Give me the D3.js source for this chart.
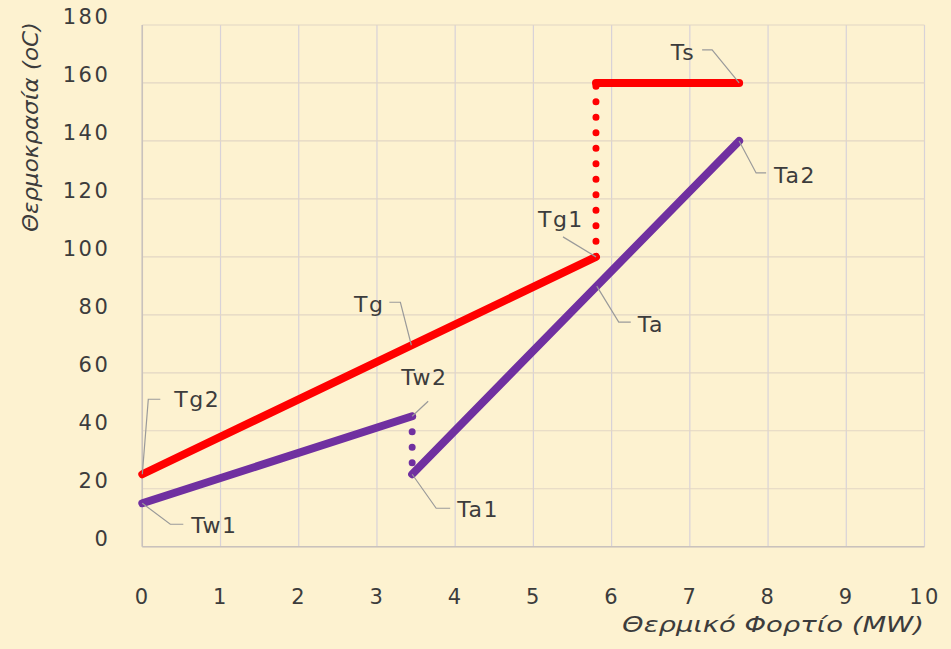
<!DOCTYPE html>
<html>
<head>
<meta charset="utf-8">
<script src="https://cdn.jsdelivr.net/npm/d3@7"></script>
<style>
  html, body { margin: 0; padding: 0; background: #fdf2d0; }
  svg { display: block; }
  text { font-family: "DejaVu Sans", "Noto Sans", sans-serif; fill: #3c3c3c; }
</style>
</head>
<body>
<svg id="chart" width="951" height="649"></svg>
<script>
// Axis ticks
const xTicks = [0, 1, 2, 3, 4, 5, 6, 7, 8, 9, 10];
const yTicks = [0, 20, 40, 60, 80, 100, 120, 140, 160, 180];

// Temperature profiles: thermal load (MW) vs temperature (oC)
const tgLoad = [0, 5.8];      const tgTemp = [25, 100];   // flue gas
const twLoad = [0, 3.45];     const twTemp = [15, 45];    // water
const taLoad = [3.45, 7.63];  const taTemp = [25, 140];   // air
const tsLoad = [5.8, 7.63];   const tsTemp = [160, 160];  // steam

// Vertical jumps between segments (dotted)
const tgJumpLoad = [5.8, 5.8];   const tgJumpTemp = [100, 160];
const twJumpLoad = [3.45, 3.45]; const twJumpTemp = [45, 25];

// Point annotations: name and the value point they refer to
const labelNames = ["Tg2", "Tw1", "Tg", "Tw2", "Ta1", "Tg1", "Ta", "Ta2", "Ts"];
const labelLoad  = [0, 0, 3.44, 3.45, 3.45, 5.8, 5.81, 7.63, 7.63];
const labelTemp  = [25, 15, 69.5, 45, 25, 100, 89.9, 140, 160];

// Leader-line layout for each annotation (pixel offsets from its point)
const leaderLayout = {
  Tg2: { path: [[6, -75], [18, -75]],   text: [32, -67],  anchor: "start" },
  Tw1: { path: [[28, 21], [41, 21]],    text: [49, 30],   anchor: "start" },
  Tg:  { path: [[-11, -43], [-22, -43]], text: [-27, -33], anchor: "end" },
  Tw2: { path: [[16, -15]],             text: [-11, -31], anchor: "start" },
  Ta1: { path: [[24, 34], [38, 34]],    text: [45, 43],   anchor: "start" },
  Tg1: { path: [[-33, -20]],            text: [-58, -30], anchor: "start" },
  Ta:  { path: [[22, 36], [34, 36]],    text: [41, 46],   anchor: "start" },
  Ta2: { path: [[17, 32], [27, 32]],    text: [35, 42],   anchor: "start" },
  Ts:  { path: [[-27, -33], [-37, -33]], text: [-44, -23], anchor: "end" }
};

const svg = d3.select("#chart");
const x = d3.scaleLinear().domain([0, 10]).range([142.3, 924.5]);
const y = d3.scaleLinear().domain([0, 180]).range([546.7, 25]);

// Grid
const grid = svg.append("g");
grid.selectAll("line.v").data(xTicks).join("line")
  .attr("x1", d => x(d)).attr("x2", d => x(d))
  .attr("y1", y(0)).attr("y2", y(180))
  .attr("stroke", "#d8d2d8").attr("stroke-width", 1.2);
grid.selectAll("line.h").data(yTicks).join("line")
  .attr("x1", x(0)).attr("x2", x(10))
  .attr("y1", d => y(d)).attr("y2", d => y(d))
  .attr("stroke", "#e2d6c4").attr("stroke-width", 1.2);
// Axis lines
svg.append("line").attr("x1", x(0)).attr("x2", x(10)).attr("y1", y(0)).attr("y2", y(0))
  .attr("stroke", "#c9c2bc").attr("stroke-width", 1.5);
svg.append("line").attr("x1", x(0)).attr("x2", x(0)).attr("y1", y(0)).attr("y2", y(180))
  .attr("stroke", "#c9c2bc").attr("stroke-width", 1.5);

// Axes (labels only)
const xAxis = svg.append("g").attr("transform", `translate(0,${y(0)})`)
  .call(d3.axisBottom(x).tickValues(xTicks).tickSize(0).tickPadding(42).tickFormat(d3.format("d")));
const yAxis = svg.append("g").attr("transform", `translate(${x(0)},0)`)
  .call(d3.axisLeft(y).tickValues(yTicks).tickSize(0).tickPadding(32).tickFormat(d3.format("d")));
[xAxis, yAxis].forEach(a => {
  a.select(".domain").remove();
  a.selectAll("text").attr("font-size", 21).attr("fill", "#3c3c3c")
    .attr("font-family", "DejaVu Sans").attr("letter-spacing", 2.5);
});
yAxis.selectAll("text").attr("dy", "-0.05em");

// Axis titles
svg.append("text")
  .attr("transform", "translate(38,127) rotate(-90)")
  .attr("text-anchor", "middle")
  .attr("font-size", 21).attr("font-style", "italic")
  .attr("textLength", 210).attr("lengthAdjust", "spacingAndGlyphs")
  .text("Θερμοκρασία (oC)");
svg.append("text")
  .attr("x", 924).attr("y", 632)
  .attr("text-anchor", "end")
  .attr("font-size", 22).attr("font-style", "italic")
  .attr("textLength", 302).attr("lengthAdjust", "spacingAndGlyphs")
  .text("Θερμικό Φορτίο (MW)");

const line = d3.line().x(d => x(d[0])).y(d => y(d[1]));
const pts = (a, b) => a.map((v, i) => [v, b[i]]);

// Dotted vertical jumps
function dotted(load, temp, color) {
  svg.append("path").datum(pts(load, temp))
    .attr("d", line).attr("fill", "none")
    .attr("stroke", color).attr("stroke-width", 7)
    .attr("stroke-linecap", "round").attr("stroke-dasharray", "0 15.5");
}
dotted(tgJumpLoad, tgJumpTemp, "#ff0000");
dotted(twJumpLoad, twJumpTemp, "#7030a0");

// Solid profiles
function solid(load, temp, color) {
  svg.append("path").datum(pts(load, temp))
    .attr("d", line).attr("fill", "none")
    .attr("stroke", color).attr("stroke-width", 8)
    .attr("stroke-linecap", "round");
}
solid(tgLoad, tgTemp, "#ff0000");
solid(tsLoad, tsTemp, "#ff0000");
solid(twLoad, twTemp, "#7030a0");
solid(taLoad, taTemp, "#7030a0");

// Annotations with leader lines
const ann = svg.append("g");
labelNames.forEach((name, i) => {
  const px = x(labelLoad[i]), py = y(labelTemp[i]);
  const lay = leaderLayout[name];
  const path = [[px, py]].concat(lay.path.map(p => [px + p[0], py + p[1]]));
  ann.append("path").attr("d", d3.line()(path))
    .attr("fill", "none").attr("stroke", "#9a9a9a").attr("stroke-width", 1.2);
  ann.append("text")
    .attr("x", px + lay.text[0]).attr("y", py + lay.text[1])
    .attr("text-anchor", lay.anchor)
    .attr("font-size", 22).attr("letter-spacing", 1.5)
    .text(name);
});
</script>
</body>
</html>
